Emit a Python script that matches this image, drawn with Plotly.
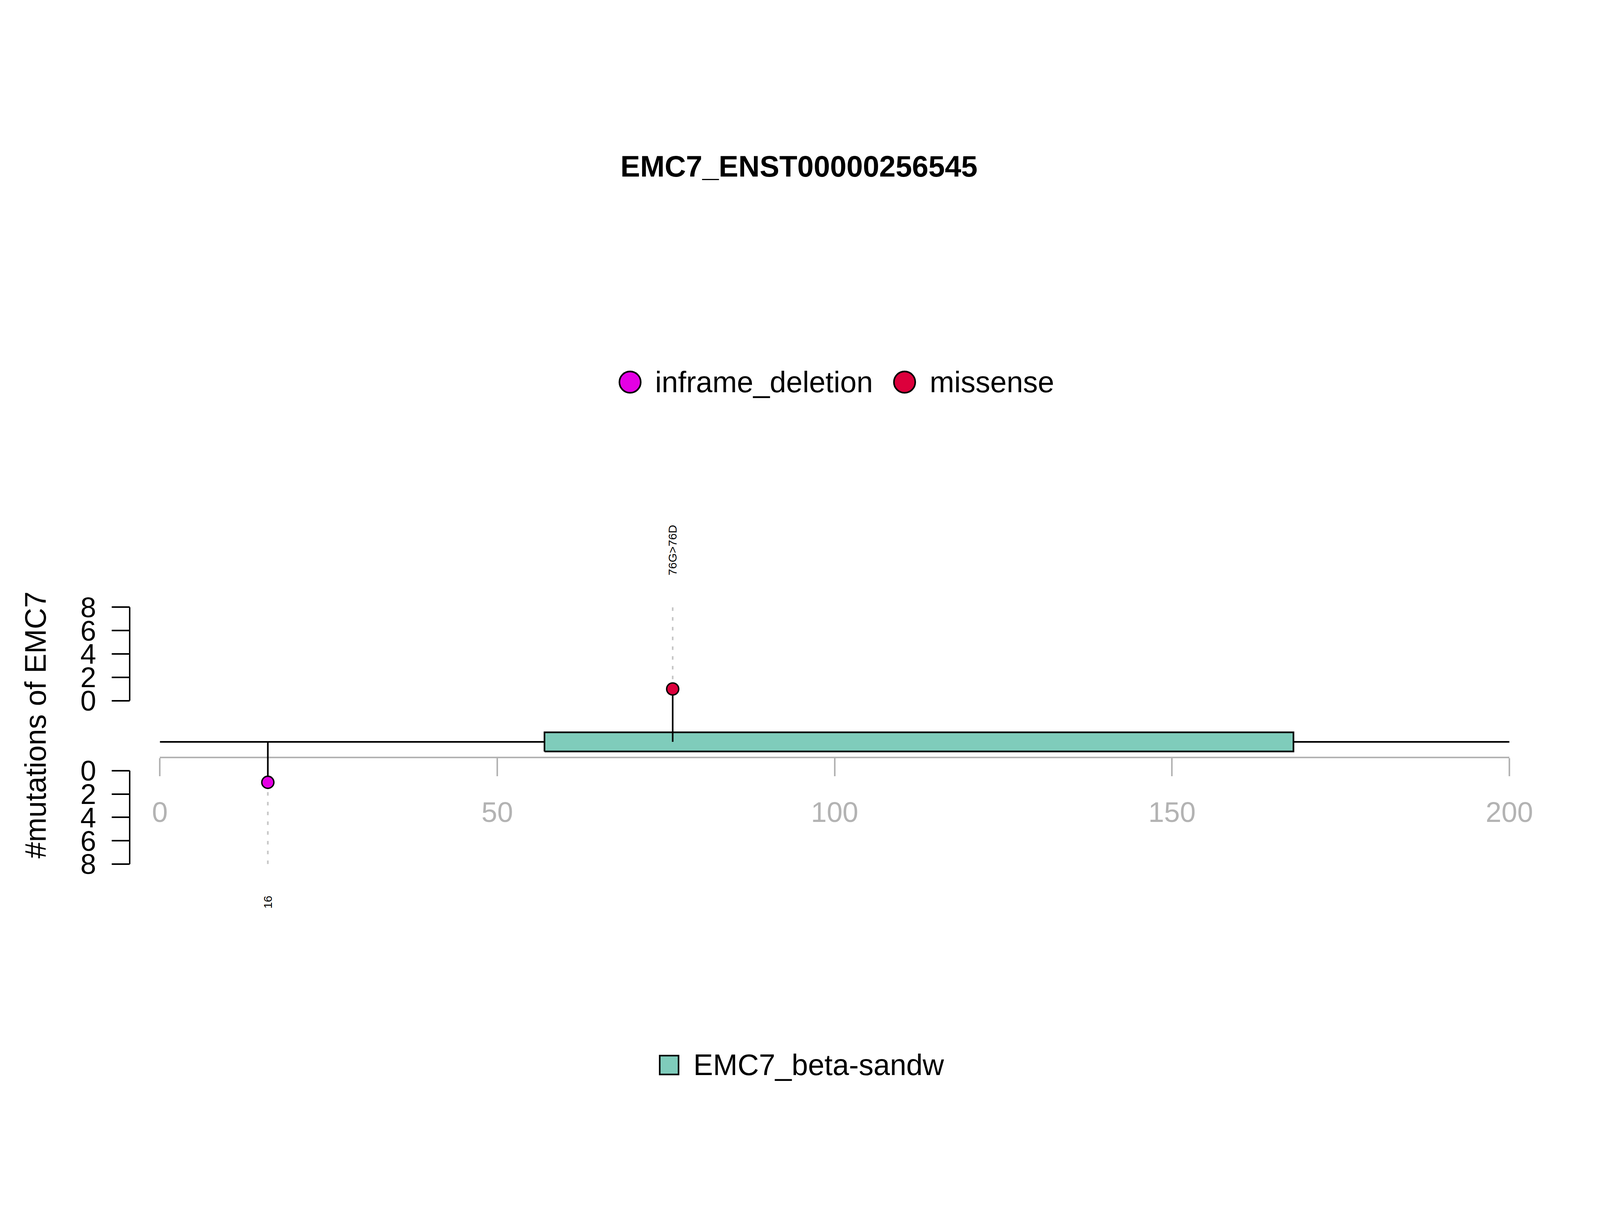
import plotly.graph_objects as go

# ---- data ----
protein_len = 200
x_ticks = [0, 50, 100, 150, 200]
count_ticks = [0, 2, 4, 6, 8]

mut_pos = [16, 76]
mut_type = ["inframe_deletion", "missense"]
mut_count = [1, 1]
mut_side = ["down", "up"]
mut_label = ["16", "76G>76D"]

domain_name = ["EMC7_beta-sandw"]
domain_start = [57]
domain_end = [168]

title = "EMC7_ENST00000256545"
ytitle = "#mutations of EMC7"

# ---- styles ----
type_color = {"inframe_deletion": "#E400E4", "missense": "#DC003C"}
domain_color = ["#7FCCBB"]
FONT = "Liberation Sans, Arial, sans-serif"
GREY = "#B3B3B3"

# the page is shown at ~1.1 device px per css px, with the 8px body margin
S = 1.1
OFF = 8
def fpx(d):   # reference pixel -> figure pixel
    return d / S - OFF
def fsz(d):   # reference size -> figure size
    return d / S
def dev(p):   # figure pixel -> reference pixel
    return (p + OFF) * S

FW, FH = 4060, 2790

# vertical layout, one unit = one mutation
PX_PER_COUNT = 32.9
UP_ZERO_PX = 1973
def ypx(d):
    return (UP_ZERO_PX - d) / PX_PER_COUNT

BACKBONE = ypx(2089)
LOW_ZERO = ypx(2170)
BOX_HALF = 27 / PX_PER_COUNT
GUIDE_END = 8.3
LABEL_AT = 10.64

def side_y(v, side):
    return v if side == "up" else LOW_ZERO - v

LW = fsz(4.6)

fig = go.Figure()

# backbone
fig.add_trace(go.Scatter(x=[0, protein_len], y=[BACKBONE, BACKBONE], mode="lines",
                         line=dict(color="black", width=LW), showlegend=False, hoverinfo="skip"))

# domains
for s, e, c in zip(domain_start, domain_end, domain_color):
    fig.add_trace(go.Scatter(x=[s, e, e, s, s],
                             y=[BACKBONE - BOX_HALF, BACKBONE - BOX_HALF, BACKBONE + BOX_HALF,
                                BACKBONE + BOX_HALF, BACKBONE - BOX_HALF],
                             mode="lines", fill="toself", fillcolor=c,
                             line=dict(color="black", width=LW), showlegend=False, hoverinfo="skip"))

# guides, stems, heads
for p, t, n, sd, lab in zip(mut_pos, mut_type, mut_count, mut_side, mut_label):
    yv = side_y(n, sd)
    fig.add_trace(go.Scatter(x=[p, p], y=[yv, side_y(GUIDE_END, sd)], mode="lines",
                             line=dict(color="#C6C6C6", width=LW, dash="9px,16px"),
                             showlegend=False, hoverinfo="skip"))
    fig.add_trace(go.Scatter(x=[p, p], y=[BACKBONE, yv], mode="lines",
                             line=dict(color="black", width=LW), showlegend=False, hoverinfo="skip"))
    fig.add_trace(go.Scatter(x=[p], y=[yv], mode="markers",
                             marker=dict(size=fsz(34), color=type_color[t],
                                         line=dict(color="black", width=fsz(4))),
                             showlegend=False, cliponaxis=False))
    fig.add_annotation(x=p, y=side_y(LABEL_AT, sd), xref="x", yref="y", text=lab, textangle=-90,
                       showarrow=False, xanchor="center", yanchor="bottom" if sd == "up" else "top",
                       font=dict(family=FONT, size=fsz(33), color="black"))

# count axis spines
for z, sgn in [(0, 1), (LOW_ZERO, -1)]:
    fig.add_shape(type="line", xref="paper", yref="y", x0=0, x1=0, y0=z, y1=z + sgn * count_ticks[-1],
                  line=dict(color="black", width=fsz(4)))

L = fpx(365)
R = FW - fpx(4250)
plot_w = FW - L - R

def paper_x(d):
    return (fpx(d) - L) / plot_w

# ---- legends (pixel overlay x2/y2) ----
leg_top_x = [1774, 2547]
leg_top_y = 1076
for (t, c), cx in zip(type_color.items(), leg_top_x):
    fig.add_trace(go.Scatter(x=[fpx(cx)], y=[fpx(leg_top_y)], xaxis="x2", yaxis="y2", mode="markers",
                             marker=dict(size=fsz(60), color=c, line=dict(color="black", width=fsz(4.5))),
                             showlegend=False, hoverinfo="skip", cliponaxis=False))
    fig.add_annotation(x=fpx(cx + 68), y=fpx(leg_top_y), xref="x2", yref="y2", text=t, showarrow=False,
                       xanchor="left", yanchor="middle", font=dict(family=FONT, size=fsz(83), color="black"))

for name, c in zip(domain_name, domain_color):
    fig.add_trace(go.Scatter(x=[fpx(1884)], y=[fpx(2999)], xaxis="x2", yaxis="y2", mode="markers",
                             marker=dict(size=fsz(53), symbol="square", color=c,
                                         line=dict(color="black", width=fsz(4.5))),
                             showlegend=False, hoverinfo="skip", cliponaxis=False))
    fig.add_annotation(x=fpx(1950), y=fpx(2999), xref="x2", yref="y2", text=name, showarrow=False,
                       xanchor="left", yanchor="middle", font=dict(family=FONT, size=fsz(83), color="black"))

fig.add_annotation(x=paper_x(100), y=fpx(2042), xref="paper", yref="y2", text=ytitle, textangle=-90,
                   showarrow=False, xanchor="center", yanchor="middle",
                   font=dict(family=FONT, size=fsz(83), color="black"))

up_vals = [side_y(v, "up") for v in count_ticks]
low_vals = [side_y(v, "down") for v in count_ticks]

fig.update_layout(
    width=FW, height=FH,
    margin=dict(l=L, r=R, t=0, b=0, pad=0, autoexpand=False),
    paper_bgcolor="white", plot_bgcolor="rgba(0,0,0,0)",
    title=dict(text="<b>" + title + "</b>", x=fpx(2250) / FW, xref="container",
               y=1 - fpx(468) / FH, yref="container", xanchor="center", yanchor="middle",
               font=dict(family=FONT, size=fsz(83), color="black")),
    showlegend=False,
    xaxis=dict(domain=[paper_x(450), 1], range=[0, protein_len], anchor="free",
               position=1 - fpx(2133) / FH,
               showline=True, linecolor=GREY, linewidth=fsz(4), ticks="outside", ticklen=fsz(51),
               tickwidth=fsz(4), tickcolor=GREY, tickvals=x_ticks,
               tickfont=dict(family=FONT, size=fsz(80), color=GREY),
               ticklabelstandoff=29, showgrid=False, zeroline=False, layer="below traces"),
    yaxis=dict(domain=[0, 1], range=[ypx(dev(FH)), ypx(dev(0))], anchor="free", position=0,
               tickvals=up_vals + low_vals, ticktext=[str(v) for v in count_ticks] * 2,
               ticks="outside", ticklen=fsz(51), tickwidth=fsz(4), tickcolor="black",
               tickfont=dict(family=FONT, size=fsz(80), color="black"), ticklabelstandoff=25,
               showline=False, showgrid=False, zeroline=False, layer="below traces"),
    xaxis2=dict(domain=[0, 1], range=[L, FW - R], anchor="y2", visible=False),
    yaxis2=dict(domain=[0, 1], range=[FH, 0], anchor="x2", visible=False),
)

fig.write_html("out.html")
